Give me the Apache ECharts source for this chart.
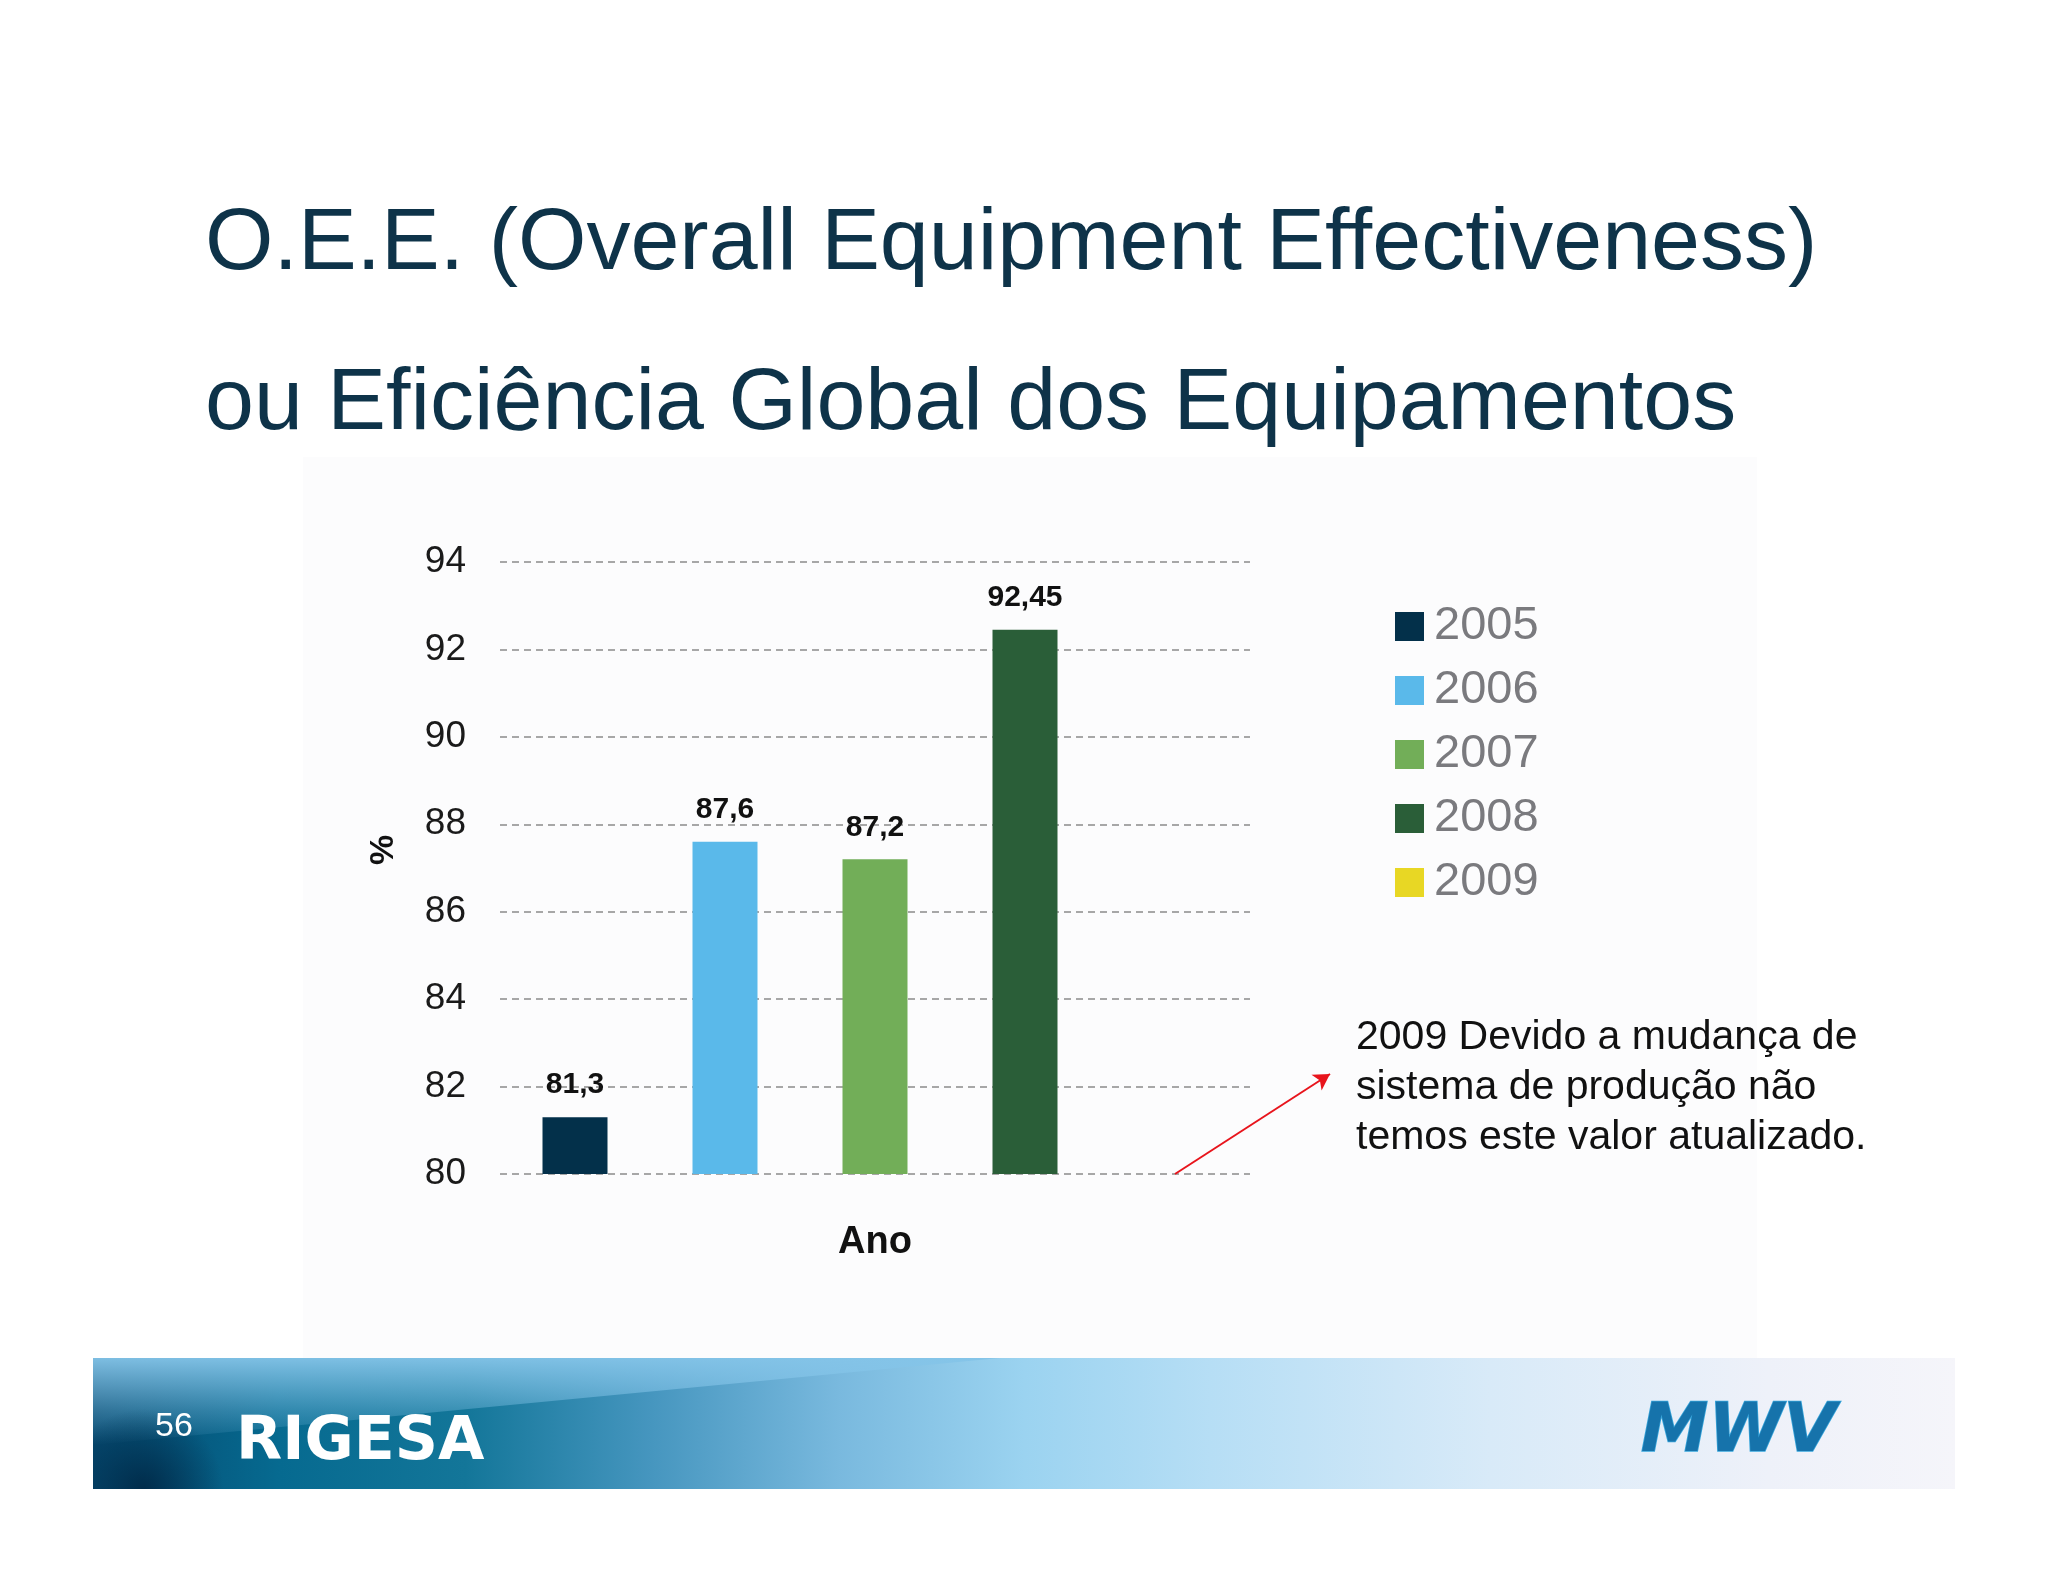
<!DOCTYPE html>
<html>
<head>
<meta charset="utf-8">
<script src="https://cdn.jsdelivr.net/npm/echarts@6/dist/echarts.min.js"></script>
<style>
html,body{margin:0;padding:0;background:#ffffff;}
#chart{width:2048px;height:1582px;}
</style>
</head>
<body>
<div id="chart"></div>
<script>
// ---- data ----
const years = ['2005', '2006', '2007', '2008', '2009'];
const oeeValues = [81.3, 87.6, 87.2, 92.45, null];
const yMin = 80, yMax = 94, yStep = 2;
const titleLines = ['O.E.E. (Overall Equipment Effectiveness)', 'ou Eficiência Global dos Equipamentos'];
const noteLines = ['2009 Devido a mudança de', 'sistema de produção não', 'temos este valor atualizado.'];
const yAxisTitle = '%';
const xAxisTitle = 'Ano';
const pageNumber = '56';
const leftBrand = 'RIGESA';
const rightBrand = 'MWV';

// ---- styles ----
const palette = ['#03304a', '#5ab9ea', '#72ae58', '#2a5e38', '#e8d724'];
const FONT = '"Liberation Sans", Arial, Helvetica, sans-serif';

const chart = echarts.init(document.getElementById('chart'), null, {renderer: 'canvas'});

const series = years.map((y, i) => {
  const s = {
    name: y,
    type: 'bar',
    barWidth: 65,
    barGap: '-100%',
    itemStyle: {color: palette[i]},
    data: oeeValues.map((v, j) => (j === i ? v : null)),
    label: {
      show: true,
      position: 'top',
      distance: 17,
      fontFamily: FONT,
      fontWeight: 'bold',
      fontSize: 30,
      color: '#111111',
      formatter: p => (p.value == null ? '' : String(p.value).replace('.', ','))
    }
  };
  if (i === years.length - 1) {
    s.markLine = {
      silent: true,
      symbol: ['none', 'arrow'],
      symbolSize: [14, 16],
      label: {show: false},
      lineStyle: {color: '#e8141c', width: 2, type: 'solid'},
      data: [[{coord: [years[i], yMin]}, {x: 1330, y: 1074}]]
    };
  }
  return s;
});

const option = {
  backgroundColor: '#ffffff',
  animation: false,
  title: {
    text: titleLines.join('\n'),
    left: 200,
    top: 160,
    textStyle: {
      fontFamily: FONT,
      fontWeight: 'normal',
      fontSize: 88,
      lineHeight: 160,
      color: '#0e3349'
    }
  },
  legend: {
    orient: 'vertical',
    left: 1390,
    top: 598,
    itemWidth: 29,
    itemHeight: 29,
    itemGap: 17,
    icon: 'rect',
    selectedMode: false,
    textStyle: {
      fontFamily: FONT,
      fontSize: 47,
      lineHeight: 45,
      color: '#7a7a7e',
      padding: [0, 0, 0, 5]
    },
    data: years
  },
  grid: {left: 500, right: 798, top: 562, bottom: 408, containLabel: false},
  xAxis: {
    type: 'category',
    data: years,
    name: xAxisTitle,
    nameLocation: 'middle',
    nameGap: 50,
    nameTextStyle: {fontFamily: FONT, fontWeight: 'bold', fontSize: 38, color: '#111111'},
    axisLine: {show: false},
    axisTick: {show: false},
    axisLabel: {show: false},
    splitLine: {show: false}
  },
  yAxis: {
    type: 'value',
    min: yMin,
    max: yMax,
    interval: yStep,
    name: yAxisTitle,
    nameLocation: 'middle',
    nameRotate: 90,
    nameGap: 99,
    nameTextStyle: {fontFamily: FONT, fontWeight: 'bold', fontSize: 34, color: '#111111', padding: [0, 0, 0, 36]},
    axisLine: {show: false},
    axisTick: {show: false},
    axisLabel: {fontFamily: FONT, fontSize: 37, color: '#1a1a1a', margin: 34},
    splitLine: {show: true, lineStyle: {color: '#8a8a8a', width: 1.5, type: [7, 5]}}
  },
  graphic: [
    {
      type: 'rect', z: -10, silent: true,
      shape: {x: 303, y: 457, width: 1454, height: 901},
      style: {fill: '#fcfcfd'}
    },
    {
      type: 'text', left: 1356, top: 1013, silent: true,
      style: {
        text: noteLines.join('\n'),
        font: '41px ' + FONT,
        lineHeight: 50,
        fill: '#111111'
      }
    },
    // footer band
    {
      type: 'rect', silent: true, z: 1,
      shape: {x: 93, y: 1358, width: 1862, height: 131},
      style: {
        fill: new echarts.graphic.LinearGradient(0, 0, 1, 0, [
          {offset: 0, color: '#05486e'},
          {offset: 0.1, color: '#066a90'},
          {offset: 0.2, color: '#137699'},
          {offset: 0.3, color: '#4696bf'},
          {offset: 0.4, color: '#79b9de'},
          {offset: 0.5, color: '#9bd3f0'},
          {offset: 0.6, color: '#b6def5'},
          {offset: 0.75, color: '#d8eaf8'},
          {offset: 0.9, color: '#eef1f9'},
          {offset: 1, color: '#f5f5fa'}
        ])
      }
    },
    {
      type: 'polygon', silent: true, z: 2,
      shape: {points: [[93, 1358], [1000, 1358], [93, 1445]]},
      style: {
        fill: new echarts.graphic.LinearGradient(0, 0, 0, 1, [
          {offset: 0, color: 'rgba(132,196,232,0.95)'},
          {offset: 0.6, color: 'rgba(132,196,232,0.35)'},
          {offset: 1, color: 'rgba(132,196,232,0)'}
        ])
      }
    },
    {
      type: 'rect', silent: true, z: 2,
      shape: {x: 93, y: 1400, width: 500, height: 89},
      style: {
        fill: new echarts.graphic.RadialGradient(0.1, 1, 0.9, [
          {offset: 0, color: 'rgba(0,40,70,0.9)'},
          {offset: 1, color: 'rgba(0,40,70,0)'}
        ])
      }
    },
    {
      type: 'text', silent: true, z: 5, left: 155, top: 1410,
      style: {text: pageNumber, font: '34px ' + FONT, fill: '#ffffff'}
    },
    {
      type: 'text', silent: true, z: 5, left: 236, top: 1413,
      style: {text: leftBrand, font: 'bold 60px "DejaVu Sans", sans-serif', fill: '#ffffff'}
    },
    {
      type: 'text', silent: true, z: 5, left: 1640, top: 1399,
      style: {
        text: rightBrand,
        font: 'italic bold 68px "DejaVu Sans", sans-serif',
        fill: '#1673ab',
        stroke: '#3aa7dc',
        lineWidth: 1.5
      }
    }
  ],
  series: series
};

chart.setOption(option);
</script>
</body>
</html>
